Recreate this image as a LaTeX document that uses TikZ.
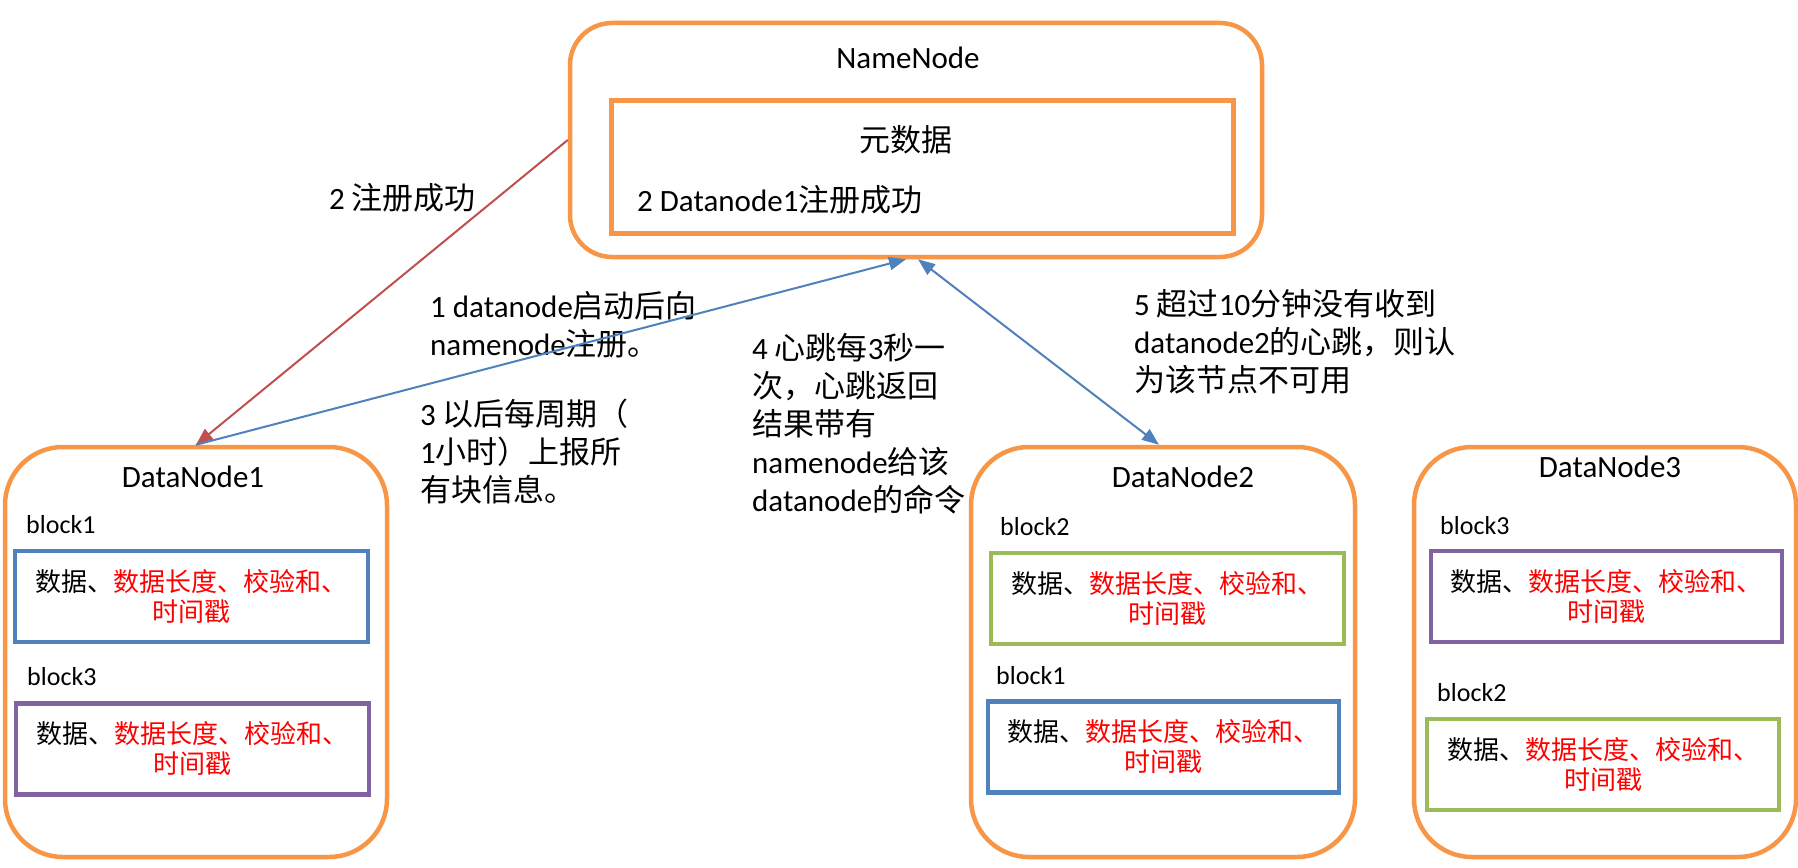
\documentclass[tikz,border=0pt]{standalone}
\usepackage{fontspec}
\setmainfont{Carlito}
\newfontfamily\cjk{Noto Sans CJK SC}
\newcommand\zh[1]{{\cjk #1}}
\usetikzlibrary{arrows.meta}
\definecolor{orng}{HTML}{F79646}
\definecolor{blu}{HTML}{4F81BD}
\definecolor{grn}{HTML}{9BBB59}
\definecolor{prp}{HTML}{8064A2}
\definecolor{redl}{HTML}{C0504D}
\begin{document}
\begin{tikzpicture}[x=1pt,y=-1pt,
  outerbox/.style={draw=orng, line width=4.5pt, rounded corners=58pt, minimum height=410pt, inner sep=0pt},
  innerbox/.style={draw=orng, line width=5pt, inner sep=0pt},
  blk/.style={draw=#1, line width=4.5pt, inner sep=0pt, minimum height=91pt, align=center,
              font=\fontsize{26}{30}\selectfont\cjk},
  title/.style={font=\fontsize{31}{38}\selectfont, inner sep=0pt},
  lbl/.style={font=\fontsize{31}{38}\selectfont, inner sep=0pt, anchor=west, align=left},
  blabel/.style={font=\fontsize{26}{30}\selectfont, inner sep=0pt, anchor=west},
  conn/.style={line width=2pt, draw=#1},
  tip/.style={-{Triangle[length=17pt,width=13pt]}}
]
\useasboundingbox (0,0) rectangle (1798,867);
\fill[white] (0,0) rectangle (1798,867);

% NameNode
\node[draw=orng, line width=4.5pt, rounded corners=42pt, minimum width=692pt, minimum height=234pt, inner sep=0pt] (nn) at (916,140) {};
\node[innerbox, minimum width=622pt, minimum height=133pt] (meta) at (922,166.5) {};
\node[title] (nntitle) at (908,58) {NameNode};
\node[title] (metatitle) at (906,140) {\zh{元数据}};
\node[lbl] (metatext) at (637,200) {2 Datanode1\zh{注册成功}};

% DataNode1
\node[outerbox, minimum width=382pt] (dn1) at (196,652) {};
\node[title] (dn1title) at (193,477) {DataNode1};
\node[blabel] (dn1l1) at (26,525) {block1};
\node[blk=blu, minimum width=353pt] (dn1b1) at (191.5,596.5) {数据、\textcolor{red}{数据长度、校验和、}\\\textcolor{red}{时间戳}};
\node[blabel] (dn1l3) at (27,677) {block3};
\node[blk=prp, minimum width=353pt] (dn1b3) at (192.5,749) {数据、\textcolor{red}{数据长度、校验和、}\\\textcolor{red}{时间戳}};

% DataNode2
\node[outerbox, minimum width=384pt] (dn2) at (1163,652) {};
\node[title] (dn2title) at (1183,477) {DataNode2};
\node[blabel] (dn2l2) at (1000,527) {block2};
\node[blk=grn, minimum width=353pt] (dn2b2) at (1167.5,598.5) {数据、\textcolor{red}{数据长度、校验和、}\\\textcolor{red}{时间戳}};
\node[blabel] (dn2l1) at (996,676) {block1};
\node[blk=blu, minimum width=351pt] (dn2b1) at (1163.5,747) {数据、\textcolor{red}{数据长度、校验和、}\\\textcolor{red}{时间戳}};

% DataNode3
\node[outerbox, minimum width=382pt] (dn3) at (1605,652) {};
\node[title] (dn3title) at (1610,467) {DataNode3};
\node[blabel] (dn3l3) at (1440,526) {block3};
\node[blk=prp, minimum width=351pt] (dn3b3) at (1606.5,596.5) {数据、\textcolor{red}{数据长度、校验和、}\\\textcolor{red}{时间戳}};
\node[blabel] (dn3l2) at (1437,693) {block2};
\node[blk=grn, minimum width=352pt] (dn3b2) at (1603,764.5) {数据、\textcolor{red}{数据长度、校验和、}\\\textcolor{red}{时间戳}};

% labels
\node[lbl] (l2) at (329,198) {2 \zh{注册成功}};
\node[lbl] (l1) at (430,325) {1 datanode\zh{启动后向}\\namenode\zh{注册。}};
\node[lbl] (l3) at (420,452) {3 \zh{以后每周期（}\\1\zh{小时）上报所}\\\zh{有块信息。}};
\node[lbl] (l4) at (752,424) {4 \zh{心跳每}3\zh{秒一}\\\zh{次，心跳返回}\\\zh{结果带有}\\namenode\zh{给该}\\datanode\zh{的命令}};
\node[lbl] (l5) at (1134,341.5) {5 \zh{超过}10\zh{分钟没有收到}\\datanode2\zh{的心跳，则认}\\\zh{为该节点不可用}};

% connectors
\draw[conn=redl, tip] (nn.west) -- (dn1.north);
\draw[conn=blu, tip] (dn1.north) -- ([xshift=-10pt]nn.south);
\draw[conn=blu, {Triangle[length=17pt,width=13pt]}-{Triangle[length=17pt,width=13pt]}] ([xshift=2pt]nn.south) -- ([xshift=-4pt]dn2.north);
\end{tikzpicture}
\end{document}
